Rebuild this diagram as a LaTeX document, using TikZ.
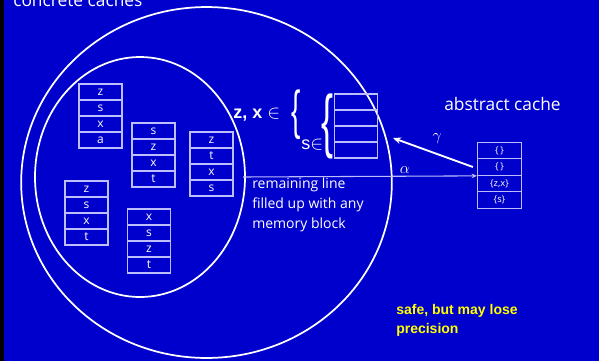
\documentclass[tikz,border=0pt]{standalone}
\usepackage{fontspec}
\usepackage{amsmath}
\usepackage{graphicx}
\usetikzlibrary{arrows.meta}
\setmainfont{Open Sans}
\newfontfamily\arialfont{Liberation Sans}
\definecolor{slideblue}{RGB}{0,0,204}
\definecolor{cellline}{RGB}{190,190,255}
\definecolor{noteyellow}{RGB}{255,255,0}

\tikzset{
  cell/.style={draw=cellline, line width=0.9pt, minimum width=32.25pt,
    minimum height=12pt, inner sep=0pt, text=white, font=\small},
  abscell/.style={cell, minimum width=33pt, minimum height=12.4pt, font=\scriptsize},
  ring/.style={draw=white, line width=1.3pt},
  label/.style={text=white, inner sep=0pt}
}

\begin{document}
\begin{tikzpicture}[x=0.75pt,y=-0.75pt]
\fill[slideblue] (0,0) rectangle (599,361);
\fill[black] (0,0) rectangle (4,361);
\useasboundingbox (0,0) rectangle (599,361);

% title, cut by the top edge
\node[label, anchor=base west, font=\fontsize{13}{15}\selectfont] (title) at (13,6) {concrete caches};

% the two sets of concrete caches
\draw[ring] (206.5,182.5) ellipse [x radius=139pt, y radius=131.6pt];
\draw[ring] (140,177) ellipse [x radius=78.75pt, y radius=90pt];

% concrete caches
\foreach \t [count=\i from 0] in {z,s,x,a}
  \node[cell] (ca-\i) at (100.5,{92+16*\i}) {\t};
\foreach \t [count=\i from 0] in {s,z,x,t}
  \node[cell] (cb-\i) at (153.5,{131+16*\i}) {\t};
\foreach \t [count=\i from 0] in {z,t,x,s}
  \node[cell] (cc-\i) at (211.5,{140+16*\i}) {\t};
\foreach \t [count=\i from 0] in {z,s,x,t}
  \node[cell] (cd-\i) at (86.5,{189+16*\i}) {\t};
\foreach \t [count=\i from 0] in {x,s,z,t}
  \node[cell] (ce-\i) at (149,{217+16*\i}) {\t};

% the cache that is looked for
\node[label, anchor=west, font=\arialfont\fontsize{13.5}{15}\selectfont] (zx) at (233,115)
  {\textbf{z, x} $\in$};
\node[label] (br1) at (296,115) {\resizebox{7pt}{29pt}{\arialfont\{}};
\node[label, anchor=west, font=\arialfont\fontsize{13.5}{15}\selectfont] (sin) at (301,145) {s$\in$};
\node[label] (br2) at (327,126) {\resizebox{9pt}{38pt}{\arialfont\{}};
\foreach \i in {0,...,3}
  \node[cell] (cf-\i) at (356,{102+16*\i}) {};

% abstract cache
\node[label, anchor=west, font=\fontsize{13}{15}\selectfont] (abstitle) at (444,104) {abstract cache};
\node[abscell] (abs-0) at (499.5,150.5) {\{\,\}};
\node[abscell] (abs-1) at (499.5,167.0) {\{\,\}};
\node[abscell] (abs-2) at (499.5,183.5) {\{z,x\}};
\node[abscell] (abs-3) at (499.5,200.0) {\{s\}};

% abstraction and concretisation
\coordinate (astart) at (243,177);
\coordinate (gtip) at (393,138);
\draw[cellline, line width=0.8pt, -{Stealth[length=4pt,width=3.5pt]}] (astart) -- (abs-1.south west);
\node[label, font=\large] (alpha) at (405,170) {$\alpha$};
\draw[white, line width=1.4pt, -{Stealth[length=6pt,width=5pt]}] ([xshift=-3pt]abs-1.west) -- (gtip);
\node[label, font=\large] (gamma) at (437,139) {$\gamma$};

% notes
\node[label, anchor=north west, align=left, font=\fontsize{10.5}{14.7}\selectfont] (remain) at (252,178)
  {remaining line\\filled up with any\\memory block};
\node[anchor=north west, align=left, inner sep=0pt, text=noteyellow,
  font=\arialfont\bfseries\fontsize{10.5}{14.5}\selectfont] (safe) at (396,304)
  {safe, but may lose\\precision};
\end{tikzpicture}
\end{document}
